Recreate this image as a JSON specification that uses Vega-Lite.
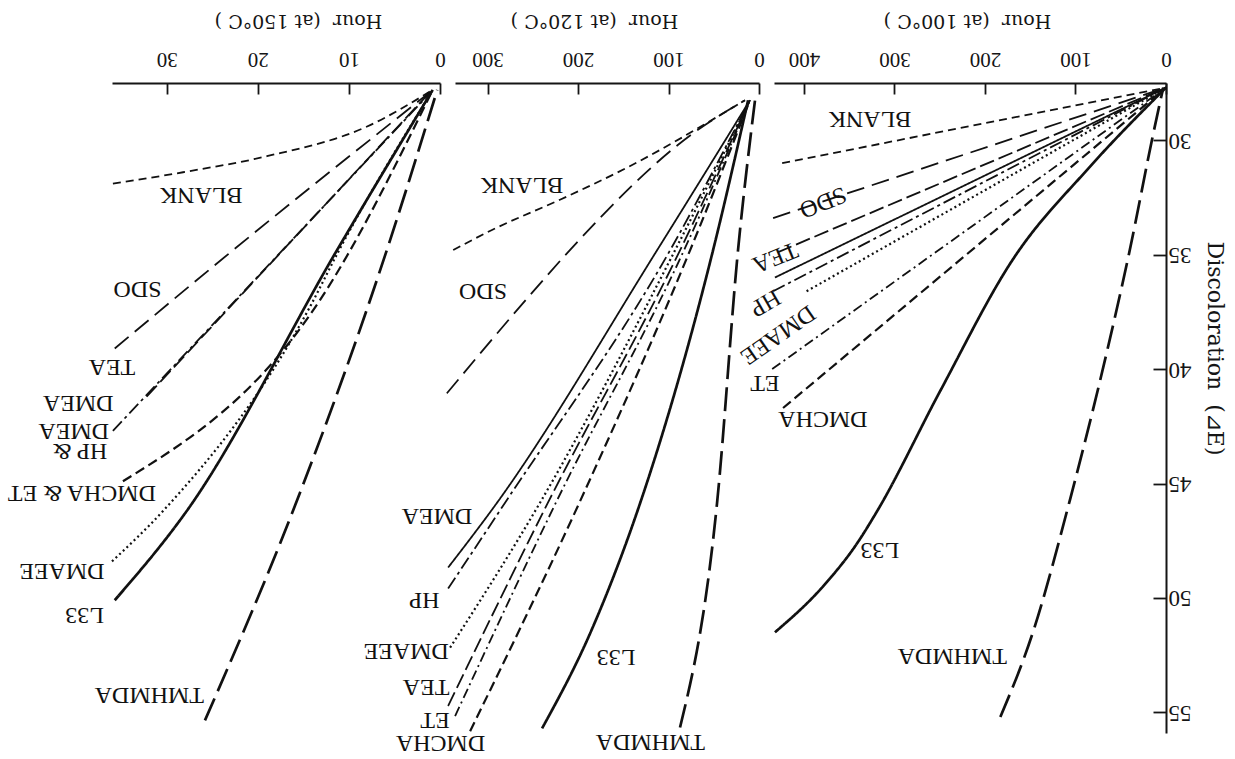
{
  "$schema": "https://vega.github.io/schema/vega-lite/v6.json",
  "autosize": {"type": "none"},
  "padding": {"left": 112, "top": 83, "right": 1123, "bottom": 676},
  "background": "white",
  "spacing": 15,
  "bounds": "flush",
  "config": {
    "view": {"stroke": null},
    "axis": {
      "domainColor": "#151515", "domainWidth": 2, "tickColor": "#151515", "tickWidth": 1.8,
      "grid": false, "labelColor": "#151515", "titleColor": "#151515",
      "labelFont": "Liberation Serif", "labelFontSize": 21,
      "titleFont": "DejaVu Serif", "titleFontSize": 19, "titleFontWeight": "normal",
      "labelOverlap": false, "labelFlush": false, "labelBound": false
    }
  },
  "datasets": {
    "lines": [
      {"panel": 100, "compound": "BLANK", "hour": 0, "dE": 27.7}, {"panel": 100, "compound": "BLANK", "hour": 424, "dE": 31.0},
      {"panel": 100, "compound": "SDO", "hour": 0, "dE": 27.7}, {"panel": 100, "compound": "SDO", "hour": 434, "dE": 33.4},
      {"panel": 100, "compound": "TEA", "hour": 0, "dE": 27.7}, {"panel": 100, "compound": "TEA", "hour": 429, "dE": 34.9},
      {"panel": 100, "compound": "DMEA", "hour": 0, "dE": 27.7}, {"panel": 100, "compound": "DMEA", "hour": 432, "dE": 36.0},
      {"panel": 100, "compound": "HP", "hour": 0, "dE": 27.7}, {"panel": 100, "compound": "HP", "hour": 434, "dE": 36.6},
      {"panel": 100, "compound": "DMAEE", "hour": 0, "dE": 27.7}, {"panel": 100, "compound": "DMAEE", "hour": 397, "dE": 36.6},
      {"panel": 100, "compound": "ET", "hour": 0, "dE": 27.7}, {"panel": 100, "compound": "ET", "hour": 435, "dE": 40.0},
      {"panel": 100, "compound": "DMCHA", "hour": 0, "dE": 27.7}, {"panel": 100, "compound": "DMCHA", "hour": 423, "dE": 41.7},
      {"panel": 100, "compound": "L33", "hour": 0, "dE": 27.7}, {"panel": 100, "compound": "L33", "hour": 85, "dE": 31.2},
      {"panel": 100, "compound": "L33", "hour": 169, "dE": 35.2}, {"panel": 100, "compound": "L33", "hour": 250, "dE": 41.0},
      {"panel": 100, "compound": "L33", "hour": 319, "dE": 46.2}, {"panel": 100, "compound": "L33", "hour": 341, "dE": 47.6},
      {"panel": 100, "compound": "L33", "hour": 379, "dE": 49.5}, {"panel": 100, "compound": "L33", "hour": 432, "dE": 51.5},
      {"panel": 100, "compound": "TMHMDA", "hour": 3, "dE": 27.7}, {"panel": 100, "compound": "TMHMDA", "hour": 14, "dE": 29.7},
      {"panel": 100, "compound": "TMHMDA", "hour": 40, "dE": 34.8}, {"panel": 100, "compound": "TMHMDA", "hour": 65, "dE": 39.2},
      {"panel": 100, "compound": "TMHMDA", "hour": 106, "dE": 45.7}, {"panel": 100, "compound": "TMHMDA", "hour": 147, "dE": 51.5},
      {"panel": 100, "compound": "TMHMDA", "hour": 183, "dE": 55.2},

      {"panel": 120, "compound": "BLANK", "hour": 15.5, "dE": 28.25}, {"panel": 120, "compound": "BLANK", "hour": 146, "dE": 31.2},
      {"panel": 120, "compound": "BLANK", "hour": 220, "dE": 32.6}, {"panel": 120, "compound": "BLANK", "hour": 294, "dE": 33.9},
      {"panel": 120, "compound": "BLANK", "hour": 338, "dE": 34.8},
      {"panel": 120, "compound": "SDO", "hour": 15.5, "dE": 28.25}, {"panel": 120, "compound": "SDO", "hour": 73, "dE": 29.7},
      {"panel": 120, "compound": "SDO", "hour": 209, "dE": 34.8}, {"panel": 120, "compound": "SDO", "hour": 256, "dE": 36.9},
      {"panel": 120, "compound": "SDO", "hour": 345, "dE": 41.06},
      {"panel": 120, "compound": "DMEA", "hour": 10, "dE": 28.25}, {"panel": 120, "compound": "DMEA", "hour": 112.7, "dE": 34.81},
      {"panel": 120, "compound": "DMEA", "hour": 290.1, "dE": 45.87}, {"panel": 120, "compound": "DMEA", "hour": 343.6, "dE": 48.67},
      {"panel": 120, "compound": "HP", "hour": 10, "dE": 28.25}, {"panel": 120, "compound": "HP", "hour": 98.3, "dE": 34.81},
      {"panel": 120, "compound": "HP", "hour": 281.2, "dE": 45.87}, {"panel": 120, "compound": "HP", "hour": 343.6, "dE": 49.59},
      {"panel": 120, "compound": "DMAEE", "hour": 10, "dE": 28.25}, {"panel": 120, "compound": "DMAEE", "hour": 92.8, "dE": 34.81},
      {"panel": 120, "compound": "DMAEE", "hour": 242.5, "dE": 45.87}, {"panel": 120, "compound": "DMAEE", "hour": 341.4, "dE": 52.17},
      {"panel": 120, "compound": "TEA", "hour": 10, "dE": 28.25}, {"panel": 120, "compound": "TEA", "hour": 87.3, "dE": 34.81},
      {"panel": 120, "compound": "TEA", "hour": 233.7, "dE": 45.87}, {"panel": 120, "compound": "TEA", "hour": 343.6, "dE": 54.72},
      {"panel": 120, "compound": "ET", "hour": 10, "dE": 28.25}, {"panel": 120, "compound": "ET", "hour": 82.9, "dE": 34.81},
      {"panel": 120, "compound": "ET", "hour": 224.9, "dE": 45.87}, {"panel": 120, "compound": "ET", "hour": 335.9, "dE": 55.16},
      {"panel": 120, "compound": "DMCHA", "hour": 10, "dE": 28.25}, {"panel": 120, "compound": "DMCHA", "hour": 76.2, "dE": 34.81},
      {"panel": 120, "compound": "DMCHA", "hour": 198.9, "dE": 45.87}, {"panel": 120, "compound": "DMCHA", "hour": 319.3, "dE": 55.82},
      {"panel": 120, "compound": "L33", "hour": 12, "dE": 28.25}, {"panel": 120, "compound": "L33", "hour": 50.8, "dE": 34.81},
      {"panel": 120, "compound": "L33", "hour": 131.5, "dE": 45.87}, {"panel": 120, "compound": "L33", "hour": 186.7, "dE": 51.55},
      {"panel": 120, "compound": "L33", "hour": 239.8, "dE": 55.7},
      {"panel": 120, "compound": "TMHMDA", "hour": 4.4, "dE": 28.25}, {"panel": 120, "compound": "TMHMDA", "hour": 23.2, "dE": 34.81},
      {"panel": 120, "compound": "TMHMDA", "hour": 46.4, "dE": 45.87}, {"panel": 120, "compound": "TMHMDA", "hour": 87.3, "dE": 55.66},

      {"panel": 150, "compound": "BLANK", "hour": 0.8, "dE": 27.8}, {"panel": 150, "compound": "BLANK", "hour": 8.0, "dE": 29.4},
      {"panel": 150, "compound": "BLANK", "hour": 19.0, "dE": 30.7}, {"panel": 150, "compound": "BLANK", "hour": 28.2, "dE": 31.4},
      {"panel": 150, "compound": "BLANK", "hour": 35.9, "dE": 31.9},
      {"panel": 150, "compound": "SDO", "hour": 1.1, "dE": 27.9}, {"panel": 150, "compound": "SDO", "hour": 22.7, "dE": 34.8},
      {"panel": 150, "compound": "SDO", "hour": 35.7, "dE": 39.1},
      {"panel": 150, "compound": "TEA", "hour": 1.1, "dE": 27.9}, {"panel": 150, "compound": "TEA", "hour": 32.2, "dE": 41.2},
      {"panel": 150, "compound": "HP", "hour": 1.0, "dE": 27.9}, {"panel": 150, "compound": "HP", "hour": 35.9, "dE": 42.7},
      {"panel": 150, "compound": "DMCHA", "hour": 0.8, "dE": 27.8}, {"panel": 150, "compound": "DMCHA", "hour": 13.2, "dE": 37.0},
      {"panel": 150, "compound": "DMCHA", "hour": 34.8, "dE": 44.9},
      {"panel": 150, "compound": "DMAEE", "hour": 0.8, "dE": 27.8}, {"panel": 150, "compound": "DMAEE", "hour": 11.2, "dE": 34.9},
      {"panel": 150, "compound": "DMAEE", "hour": 14.3, "dE": 37.3}, {"panel": 150, "compound": "DMAEE", "hour": 30.4, "dE": 46.2},
      {"panel": 150, "compound": "DMAEE", "hour": 36.0, "dE": 48.4},
      {"panel": 150, "compound": "L33", "hour": 0.8, "dE": 27.8}, {"panel": 150, "compound": "L33", "hour": 11.3, "dE": 34.8},
      {"panel": 150, "compound": "L33", "hour": 27.8, "dE": 46.2}, {"panel": 150, "compound": "L33", "hour": 35.7, "dE": 50.1},
      {"panel": 150, "compound": "TMHMDA", "hour": 0.3, "dE": 27.8}, {"panel": 150, "compound": "TMHMDA", "hour": 6.0, "dE": 35.0},
      {"panel": 150, "compound": "TMHMDA", "hour": 15.9, "dE": 45.95}, {"panel": 150, "compound": "TMHMDA", "hour": 25.8, "dE": 55.35}
    ],
    "labels": [
      {"panel": 100, "text": "BLANK", "hour": 327, "dE": 29.08},
      {"panel": 100, "text": "SDO", "hour": 379, "dE": 32.7},
      {"panel": 100, "text": "TEA", "hour": 432, "dE": 35.1},
      {"panel": 100, "text": "HP", "hour": 443, "dE": 37.1},
      {"panel": 100, "text": "DMAEE", "hour": 429, "dE": 38.5},
      {"panel": 100, "text": "ET", "hour": 443, "dE": 40.6},
      {"panel": 100, "text": "DMCHA", "hour": 379, "dE": 42.2},
      {"panel": 100, "text": "L33", "hour": 316, "dE": 47.9},
      {"panel": 100, "text": "TMHMDA", "hour": 236, "dE": 52.55},
      {"panel": 120, "text": "BLANK", "hour": 262, "dE": 31.97},
      {"panel": 120, "text": "SDO", "hour": 305, "dE": 36.6},
      {"panel": 120, "text": "DMEA", "hour": 356, "dE": 46.4},
      {"panel": 120, "text": "HP", "hour": 370, "dE": 50.1},
      {"panel": 120, "text": "DMAEE", "hour": 390, "dE": 52.3},
      {"panel": 120, "text": "TEA", "hour": 368, "dE": 53.9},
      {"panel": 120, "text": "ET", "hour": 358, "dE": 55.35},
      {"panel": 120, "text": "DMCHA", "hour": 352, "dE": 56.35},
      {"panel": 120, "text": "L33", "hour": 158, "dE": 52.6},
      {"panel": 120, "text": "TMHMDA", "hour": 120, "dE": 56.3},
      {"panel": 150, "text": "BLANK", "hour": 26.2, "dE": 32.4},
      {"panel": 150, "text": "SDO", "hour": 33.2, "dE": 36.5},
      {"panel": 150, "text": "TEA", "hour": 36.0, "dE": 39.9},
      {"panel": 150, "text": "DMEA", "hour": 39.7, "dE": 41.5},
      {"panel": 150, "text": "DMEA", "hour": 40.2, "dE": 42.7},
      {"panel": 150, "text": "HP &", "hour": 39.5, "dE": 43.6},
      {"panel": 150, "text": "DMCHA & ET", "hour": 39.3, "dE": 45.4},
      {"panel": 150, "text": "DMAEE", "hour": 41.5, "dE": 48.8},
      {"panel": 150, "text": "L33", "hour": 39.0, "dE": 50.76},
      {"panel": 150, "text": "TMHMDA", "hour": 31.9, "dE": 54.26}
    ]
  },
  "hconcat": [
    {
      "width": 328, "height": 650,
      "layer": [
        {
          "data": {"name": "lines"},
          "transform": [{"filter": "datum.panel == 150"}],
          "mark": {"type": "line", "interpolate": "monotone", "color": "#111111", "strokeCap": "butt"},
          "encoding": {
            "x": {"field": "hour", "type": "quantitative", "scale": {"domain": [0, 36], "reverse": true, "nice": false, "zero": false},
              "axis": {"orient": "top", "values": [0, 10, 20, 30], "title": "Hour\u00a0\u00a0(at 150°C\u00a0)", "labelAngle": 180, "labelAlign": "center", "labelBaseline": "top", "tickSize": -11, "labelPadding": 25, "titleAngle": 180, "titleBaseline": "top", "titleAlign": "center", "titleY": -54, "titleX": 186}},
            "y": {"field": "dE", "type": "quantitative", "scale": {"domain": [27.5, 55.9], "reverse": true, "nice": false, "zero": false}, "axis": null},
            "detail": {"field": "compound", "type": "nominal"},
            "strokeDash": {"field": "compound", "type": "nominal", "legend": null,
              "scale": {"domain": ["BLANK", "SDO", "TEA", "DMEA", "HP", "DMAEE", "ET", "DMCHA", "L33", "TMHMDA"],
                "range": [[8, 5], [18, 8], [15, 5], [1, 0], [13, 4, 3, 4], [2, 3], [10, 4, 2, 4], [10, 5], [1, 0], [24, 8]]}},
            "strokeWidth": {"condition": [{"test": "datum.compound === 'L33' || datum.compound === 'TMHMDA'", "value": 2.7}, {"test": "datum.compound === 'DMCHA' || datum.compound === 'DMAEE'", "value": 2.2}], "value": 1.8}
          }
        },
        {
          "data": {"name": "labels"},
          "transform": [{"filter": "datum.panel == 150"}],
          "mark": {"type": "text", "angle": 180, "font": "Liberation Serif", "fontSize": 24, "color": "#111111", "align": "center", "baseline": "middle"},
          "encoding": {
            "x": {"field": "hour", "type": "quantitative", "scale": {"domain": [0, 36], "reverse": true, "nice": false, "zero": false}},
            "y": {"field": "dE", "type": "quantitative", "scale": {"domain": [27.5, 55.9], "reverse": true, "nice": false, "zero": false}},
            "text": {"field": "text", "type": "nominal"}
          }
        }
      ]
    },
    {
      "width": 304, "height": 650,
      "layer": [
        {
          "data": {"name": "lines"},
          "transform": [{"filter": "datum.panel == 120"}],
          "mark": {"type": "line", "interpolate": "monotone", "color": "#111111", "strokeCap": "butt"},
          "encoding": {
            "x": {"field": "hour", "type": "quantitative", "scale": {"domain": [0, 336], "reverse": true, "nice": false, "zero": false},
              "axis": {"orient": "top", "values": [0, 100, 200, 300], "title": "Hour\u00a0\u00a0(at 120°C\u00a0)", "labelAngle": 180, "labelAlign": "center", "labelBaseline": "top", "tickSize": -11, "labelPadding": 25, "titleAngle": 180, "titleBaseline": "top", "titleAlign": "center", "titleY": -54, "titleX": 139}},
            "y": {"field": "dE", "type": "quantitative", "scale": {"domain": [27.5, 55.9], "reverse": true, "nice": false, "zero": false}, "axis": null},
            "detail": {"field": "compound", "type": "nominal"},
            "strokeDash": {"field": "compound", "type": "nominal", "legend": null,
              "scale": {"domain": ["BLANK", "SDO", "TEA", "DMEA", "HP", "DMAEE", "ET", "DMCHA", "L33", "TMHMDA"],
                "range": [[8, 5], [18, 8], [15, 5], [1, 0], [13, 4, 3, 4], [2, 3], [10, 4, 2, 4], [10, 5], [1, 0], [24, 8]]}},
            "strokeWidth": {"condition": [{"test": "datum.compound === 'L33' || datum.compound === 'TMHMDA'", "value": 2.7}, {"test": "datum.compound === 'DMCHA' || datum.compound === 'DMAEE'", "value": 2.2}], "value": 1.8}
          }
        },
        {
          "data": {"name": "labels"},
          "transform": [{"filter": "datum.panel == 120"}],
          "mark": {"type": "text", "angle": 180, "font": "Liberation Serif", "fontSize": 24, "color": "#111111", "align": "center", "baseline": "middle"},
          "encoding": {
            "x": {"field": "hour", "type": "quantitative", "scale": {"domain": [0, 336], "reverse": true, "nice": false, "zero": false}},
            "y": {"field": "dE", "type": "quantitative", "scale": {"domain": [27.5, 55.9], "reverse": true, "nice": false, "zero": false}},
            "text": {"field": "text", "type": "nominal"}
          }
        }
      ]
    },
    {
      "width": 392, "height": 650,
      "layer": [
        {
          "data": {"name": "lines"},
          "transform": [{"filter": "datum.panel == 100"}],
          "mark": {"type": "line", "interpolate": "monotone", "color": "#111111", "strokeCap": "butt"},
          "encoding": {
            "x": {"field": "hour", "type": "quantitative", "scale": {"domain": [0, 433], "reverse": true, "nice": false, "zero": false},
              "axis": {"orient": "top", "values": [0, 100, 200, 300, 400], "title": "Hour\u00a0\u00a0(at 100°C\u00a0)", "labelAngle": 180, "labelAlign": "center", "labelBaseline": "top", "tickSize": -11, "labelPadding": 25, "titleAngle": 180, "titleBaseline": "top", "titleAlign": "center", "titleY": -54, "titleX": 193}},
            "y": {"field": "dE", "type": "quantitative", "scale": {"domain": [27.5, 55.9], "reverse": true, "nice": false, "zero": false},
              "axis": {"orient": "right", "values": [30, 35, 40, 45, 50, 55], "title": "Discoloration\u00a0\u00a0(⊿E)", "labelFontSize": 23, "labelAngle": 180, "labelAlign": "right", "labelBaseline": "middle", "tickSize": -13, "labelPadding": 15, "titleFontSize": 22, "titleAngle": 90, "titleBaseline": "alphabetic", "titleAlign": "center", "titleX": 41, "titleY": 265}},
            "detail": {"field": "compound", "type": "nominal"},
            "strokeDash": {"field": "compound", "type": "nominal", "legend": null,
              "scale": {"domain": ["BLANK", "SDO", "TEA", "DMEA", "HP", "DMAEE", "ET", "DMCHA", "L33", "TMHMDA"],
                "range": [[8, 5], [18, 8], [15, 5], [1, 0], [13, 4, 3, 4], [2, 3], [10, 4, 2, 4], [10, 5], [1, 0], [24, 8]]}},
            "strokeWidth": {"condition": [{"test": "datum.compound === 'L33' || datum.compound === 'TMHMDA'", "value": 2.7}, {"test": "datum.compound === 'DMCHA' || datum.compound === 'DMAEE'", "value": 2.2}], "value": 1.8}
          }
        },
        {
          "data": {"name": "labels"},
          "transform": [{"filter": "datum.panel == 100 && datum.text !== 'SDO' && datum.text !== 'TEA' && datum.text !== 'HP' && datum.text !== 'DMAEE'"}],
          "mark": {"type": "text", "angle": 180, "font": "Liberation Serif", "fontSize": 24, "color": "#111111", "align": "center", "baseline": "middle"},
          "encoding": {
            "x": {"field": "hour", "type": "quantitative", "scale": {"domain": [0, 433], "reverse": true, "nice": false, "zero": false}},
            "y": {"field": "dE", "type": "quantitative", "scale": {"domain": [27.5, 55.9], "reverse": true, "nice": false, "zero": false}},
            "text": {"field": "text", "type": "nominal"}
          }
        },
        {
          "data": {"name": "labels"},
          "transform": [{"filter": "datum.panel == 100 && (datum.text === 'SDO' || datum.text === 'TEA')"}],
          "mark": {"type": "text", "angle": 158, "font": "Liberation Serif", "fontSize": 24, "color": "#111111", "align": "center", "baseline": "middle"},
          "encoding": {
            "x": {"field": "hour", "type": "quantitative", "scale": {"domain": [0, 433], "reverse": true, "nice": false, "zero": false}},
            "y": {"field": "dE", "type": "quantitative", "scale": {"domain": [27.5, 55.9], "reverse": true, "nice": false, "zero": false}},
            "text": {"field": "text", "type": "nominal"}
          }
        },
        {
          "data": {"name": "labels"},
          "transform": [{"filter": "datum.panel == 100 && datum.text === 'HP'"}],
          "mark": {"type": "text", "angle": 150, "font": "Liberation Serif", "fontSize": 24, "color": "#111111", "align": "center", "baseline": "middle"},
          "encoding": {
            "x": {"field": "hour", "type": "quantitative", "scale": {"domain": [0, 433], "reverse": true, "nice": false, "zero": false}},
            "y": {"field": "dE", "type": "quantitative", "scale": {"domain": [27.5, 55.9], "reverse": true, "nice": false, "zero": false}},
            "text": {"field": "text", "type": "nominal"}
          }
        },
        {
          "data": {"name": "labels"},
          "transform": [{"filter": "datum.panel == 100 && datum.text === 'DMAEE'"}],
          "mark": {"type": "text", "angle": 145, "font": "Liberation Serif", "fontSize": 24, "color": "#111111", "align": "center", "baseline": "middle"},
          "encoding": {
            "x": {"field": "hour", "type": "quantitative", "scale": {"domain": [0, 433], "reverse": true, "nice": false, "zero": false}},
            "y": {"field": "dE", "type": "quantitative", "scale": {"domain": [27.5, 55.9], "reverse": true, "nice": false, "zero": false}},
            "text": {"field": "text", "type": "nominal"}
          }
        }
      ]
    }
  ]
}
